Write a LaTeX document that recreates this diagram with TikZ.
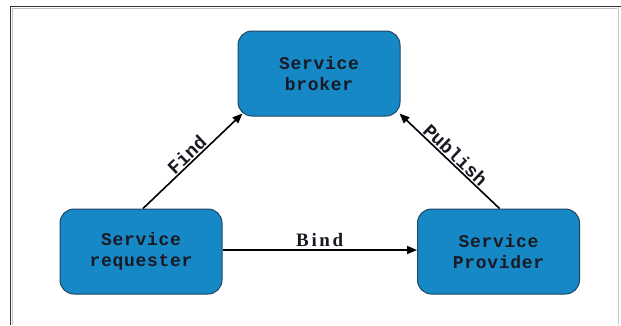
\documentclass[tikz,border=0pt]{standalone}
\usepackage{fontspec}
\setmainfont{Liberation Serif}
\newfontfamily\boxfont[LetterSpace=4]{Liberation Mono}
\newfontfamily\monofont{Liberation Mono}
\newfontfamily\labfont[LetterSpace=14]{Liberation Serif}
\usetikzlibrary{arrows.meta}
\definecolor{boxblue}{RGB}{22,136,198}
\definecolor{boxedge}{RGB}{30,70,100}
\definecolor{txtdark}{RGB}{25,25,35}
\tikzset{
  svc/.style={draw=boxedge, line width=1pt, fill=boxblue, rounded corners=14pt,
    minimum width=162pt, minimum height=85pt, inner sep=0pt, align=center,
    font=\boxfont\bfseries\fontsize{18}{21}\selectfont, text=txtdark},
  conn/.style={line width=1.6pt, -{Triangle[length=10pt,width=8pt]}, draw=black},
  lab/.style={font=\labfont\bfseries\fontsize{19}{21}\selectfont, text=txtdark, inner sep=1pt},
  slab/.style={font=\monofont\bfseries\fontsize{19}{21}\selectfont, text=txtdark, inner sep=1pt},
}
\begin{document}
\begin{tikzpicture}[x=1pt,y=-1pt]
\useasboundingbox (0,0) rectangle (621,325);
\fill[white] (0,0) rectangle (621,325);
% frame
\draw[line width=1.5pt, draw=black!80] (10.5,325) -- (10.5,6.5) -- (621,6.5);
\draw[line width=0.8pt, draw=black!25] (12.5,325) -- (12.5,8.5) -- (617,8.5);
\draw[line width=1pt, draw=black!20] (618,7) -- (618,325);
% nodes
\node[svc] (broker) at (319,73.5) {Service\\broker};
\node[svc] (req) at (141,251.5) {Service\\requester};
\node[svc] (prov) at (498.5,251.5) {Service\\Provider};
% connector end points
\path (req.north) ++(2,0) coordinate (fs);
\path (broker.south west) ++(5,-3) coordinate (fe);
\path (prov.north) ++(1,0) coordinate (ps);
\path (broker.south east) ++(-1,-3) coordinate (pe);
% connectors
\draw[conn] (fs) -- (fe) node[pos=0.5, sloped, above=0pt, slab] {Find};
\draw[conn] (ps) -- (pe) node[pos=0.5, sloped, above=0pt, slab] {Publish};
\draw[conn] (req.east |- 0,250) -- (prov.west |- 0,250) node[midway, above=2pt, lab] {Bind};
\end{tikzpicture}
\end{document}
